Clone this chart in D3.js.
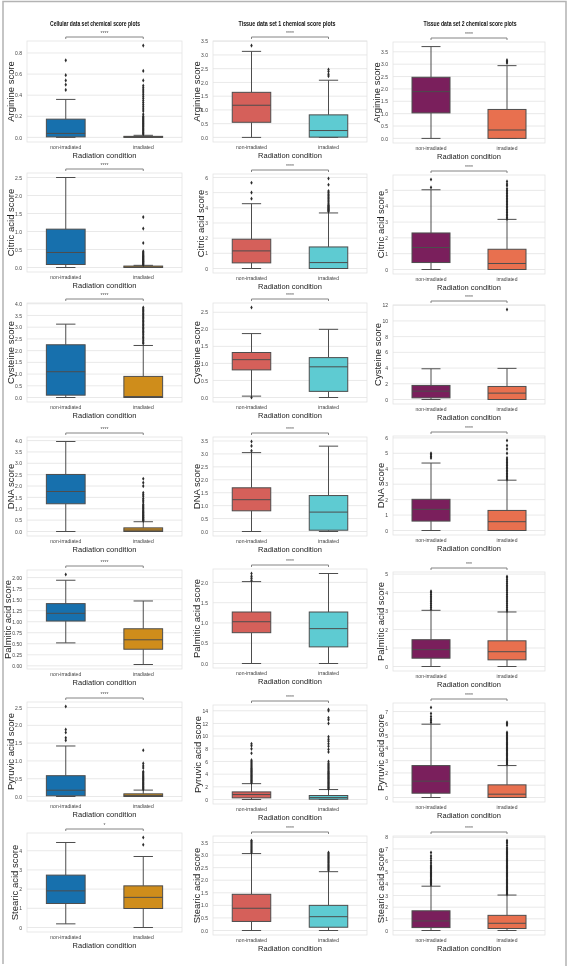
<!DOCTYPE html>
<html><head><meta charset="utf-8">
<script src="https://cdn.jsdelivr.net/npm/d3@7"></script>
<style>body{margin:0;background:#fff} svg{display:block;will-change:transform;opacity:0.999}</style>
</head><body><svg id="chart" width="569" height="972"></svg>
<script>
// ---------------- DATA ----------------
const groups = ["non-irradiated", "irradiated"];
const columnTitles = ["Cellular data set chemical score plots", "Tissue data set 1 chemical score plots", "Tissue data set 2 chemical score plots"];
const scoreLabels = ["Arginine score", "Citric acid score", "Cysteine score", "DNA score", "Palmitic acid score", "Pyruvic acid score", "Stearic acid score"];
const xAxisLabel = "Radiation condition";

// box stats per row: [[lo, q1, median, q3, hi] non-irradiated, [...] irradiated]
const cellularStats = [
  [[0, 0.005, 0.038, 0.173, 0.36], [0, 0, 0.003, 0.01, 0.02]],
  [[0, 0.083, 0.417, 1.065, 2.5], [0, 0, 0.01, 0.04, 0.06]],
  [[0, 0.10, 1.10, 2.25, 3.13], [0, 0, 0.04, 0.90, 2.22]],
  [[0, 1.22, 1.76, 2.51, 3.96], [0, 0, 0.06, 0.16, 0.43]],
  [[0.52, 1.015, 1.19, 1.41, 1.94], [0.03, 0.376, 0.59, 0.84, 1.47]],
  [[0, 0.02, 0.177, 0.585, 1.42], [0, 0, 0.03, 0.075, 0.18]],
  [[0.19, 1.25, 1.91, 2.73, 4.43], [0, 0.99, 1.57, 2.17, 3.70]]
];
const tissue1Stats = [
  [[0, 0.55, 1.17, 1.64, 3.13], [0, 0.01, 0.25, 0.82, 2.08]],
  [[0, 0.37, 1.16, 1.93, 4.27], [0, 0, 0.39, 1.42, 3.66]],
  [[0.04, 0.81, 1.11, 1.32, 1.875], [0, 0.18, 0.90, 1.17, 2.0]],
  [[0, 0.80, 1.23, 1.69, 3.05], [0, 0.05, 0.75, 1.39, 3.3]],
  [[0, 0.76, 1.03, 1.27, 2.02], [0, 0.41, 0.86, 1.27, 2.22]],
  [[0, 0.26, 0.78, 1.2, 2.5], [0, 0.05, 0.3, 0.63, 1.57]],
  [[0, 0.36, 0.885, 1.44, 3.06], [0, 0.13, 0.55, 1.0, 2.34]]
];
const tissue2Stats = [
  [[0, 1.03, 1.89, 2.47, 3.71], [0, 0, 0.34, 1.17, 2.94]],
  [[0, 0.44, 1.39, 2.31, 5.04], [0, 0, 0.38, 1.28, 3.17]],
  [[0, 0.21, 1.06, 1.79, 3.91], [0, 0, 0.81, 1.66, 3.96]],
  [[0, 0.61, 1.37, 2.02, 4.37], [0, 0, 0.57, 1.3, 3.26]],
  [[0, 0.45, 0.91, 1.45, 3.04], [0, 0.36, 0.8, 1.39, 2.95]],
  [[0, 0.35, 1.33, 2.6, 5.97], [0, 0, 0.27, 1.03, 2.6]],
  [[0, 0.25, 0.82, 1.69, 3.8], [0, 0.17, 0.62, 1.30, 3.04]]
];

// outliers per row: [non-irradiated, irradiated]
const cellularOutliers = [
  [[0.45, 0.50, 0.54, 0.59, 0.73],
   [0.03, 0.04, 0.05, 0.06, 0.07, 0.08, 0.09, 0.1, 0.11, 0.12, 0.13, 0.14, 0.15, 0.16, 0.17, 0.18, 0.19, 0.2, 0.22, 0.25, 0.27, 0.29, 0.31, 0.33, 0.35, 0.37, 0.39, 0.41, 0.43, 0.45, 0.47, 0.49, 0.54, 0.63, 0.87]],
  [[],
   [0.07, 0.09, 0.11, 0.13, 0.15, 0.17, 0.19, 0.21, 0.23, 0.25, 0.27, 0.29, 0.31, 0.33, 0.36, 0.39, 0.42, 0.45, 0.68, 1.08, 1.4]],
  [[],
   [2.3, 2.36, 2.42, 2.5, 2.56, 2.62, 2.7, 2.76, 2.82, 2.88, 2.94, 3.0, 3.06, 3.12, 3.18, 3.24, 3.3, 3.36, 3.42, 3.48, 3.54, 3.6, 3.66, 3.72, 3.78, 3.84]],
  [[],
   [0.47, 0.5, 0.53, 0.56, 0.6, 0.63, 0.67, 0.7, 0.74, 0.78, 0.82, 0.86, 0.9, 0.95, 1.0, 1.05, 1.1, 1.15, 1.2, 1.3, 1.38, 1.45, 1.55, 1.62, 1.7, 2.0, 2.15, 2.32]],
  [[2.07], []],
  [[1.58, 1.65, 1.8, 1.88, 2.53],
   [0.2, 0.23, 0.26, 0.29, 0.32, 0.35, 0.38, 0.41, 0.44, 0.47, 0.5, 0.53, 0.56, 0.6, 0.63, 0.67, 0.7, 0.8, 0.86, 0.93, 1.3]],
  [[], [4.31, 4.69]]
];
const tissue1Outliers = [
  [[3.34], [2.23, 2.3, 2.4, 2.47]],
  [[4.6, 5.0, 5.65],
   [3.75, 3.8, 3.85, 3.9, 3.95, 4.0, 4.05, 4.1, 4.15, 4.2, 4.3, 4.4, 4.5, 4.6, 4.7, 4.8, 4.9, 5.0, 5.1, 5.52, 5.93]],
  [[0.0, 2.64], []],
  [[3.12, 3.31, 3.48], []],
  [[2.05, 2.1, 2.15, 2.22], []],
  [[2.6, 2.75, 2.9, 3.05, 3.2, 3.35, 3.5, 3.65, 3.8, 3.95, 4.1, 4.25, 4.4, 4.55, 4.7, 4.85, 5.0, 5.2, 5.4, 5.6, 5.8, 6.0, 6.2, 7.3, 8.0, 8.5, 8.8],
   [1.65, 1.8, 1.95, 2.1, 2.25, 2.4, 2.55, 2.7, 2.85, 3.0, 3.15, 3.3, 3.45, 3.6, 3.75, 3.9, 4.05, 4.2, 4.35, 4.5, 4.7, 4.9, 5.1, 5.3, 5.5, 5.7, 6.0, 7.5, 7.9, 8.4, 8.8, 9.2, 9.5, 9.9, 12.0, 12.6, 12.9, 14.0, 14.2]],
  [[3.1, 3.15, 3.2, 3.25, 3.3, 3.35, 3.4, 3.45, 3.5, 3.55, 3.58],
   [2.4, 2.45, 2.5, 2.55, 2.6, 2.65, 2.7, 2.75, 2.8, 2.85, 2.9, 2.95, 3.0, 3.05, 3.1]]
];
const tissue2Outliers = [
  [[], [3.05, 3.1, 3.16]],
  [[5.19, 5.69],
   [3.2, 3.3, 3.4, 3.5, 3.6, 3.7, 3.8, 3.9, 4.0, 4.1, 4.2, 4.3, 4.4, 4.5, 4.6, 4.7, 4.8, 4.9, 5.0, 5.1, 5.3, 5.4, 5.57]],
  [[], [11.45]],
  [[4.7, 4.8, 4.9, 5.0],
   [3.3, 3.4, 3.5, 3.6, 3.7, 3.8, 3.9, 4.0, 4.1, 4.2, 4.3, 4.4, 4.5, 4.6, 4.7, 5.0, 5.28, 5.5, 5.83]],
  [[3.1, 3.2, 3.3, 3.4, 3.5, 3.6, 3.7, 3.8, 3.9, 4.0, 4.07],
   [3.0, 3.1, 3.2, 3.3, 3.4, 3.5, 3.6, 3.7, 3.8, 3.9, 4.0, 4.1, 4.2, 4.3, 4.4, 4.5, 4.6, 4.7, 4.8, 4.87]],
  [[6.1, 6.25, 6.4, 6.6, 6.84, 7.33],
   [2.7, 2.8, 2.9, 3.0, 3.1, 3.2, 3.3, 3.4, 3.5, 3.6, 3.7, 3.8, 3.9, 4.0, 4.1, 4.2, 4.3, 4.4, 4.5, 4.6, 4.7, 4.8, 4.9, 5.0, 5.1, 5.2, 5.3, 5.9, 6.0, 6.13]],
  [[3.9, 4.0, 4.1, 4.2, 4.3, 4.4, 4.5, 4.6, 4.7, 4.8, 4.9, 5.0, 5.1, 5.2, 5.3, 5.4, 5.5, 5.6, 5.8, 6.0, 6.2, 6.4, 6.68],
   [3.1, 3.2, 3.3, 3.4, 3.5, 3.6, 3.7, 3.8, 3.9, 4.0, 4.1, 4.2, 4.3, 4.4, 4.5, 4.6, 4.7, 4.8, 4.9, 5.0, 5.1, 5.2, 5.3, 5.4, 5.5, 5.6, 5.7, 5.8, 5.9, 6.0, 6.1, 6.2, 6.3, 6.4, 6.5, 6.6, 6.7, 6.8, 6.9, 7.0, 7.1, 7.3, 7.5, 7.6, 7.72]]
];

// y tick labels per row
const cellularTicks = [
  ["0.0", "0.2", "0.4", "0.6", "0.8"],
  ["0.0", "0.5", "1.0", "1.5", "2.0", "2.5"],
  ["0.0", "0.5", "1.0", "1.5", "2.0", "2.5", "3.0", "3.5", "4.0"],
  ["0.0", "0.5", "1.0", "1.5", "2.0", "2.5", "3.0", "3.5", "4.0"],
  ["0.00", "0.25", "0.50", "0.75", "1.00", "1.25", "1.50", "1.75", "2.00"],
  ["0.0", "0.5", "1.0", "1.5", "2.0", "2.5"],
  ["0", "1", "2", "3", "4"]
];
const tissue1Ticks = [
  ["0.0", "0.5", "1.0", "1.5", "2.0", "2.5", "3.0", "3.5"],
  ["0", "1", "2", "3", "4", "5", "6"],
  ["0.0", "0.5", "1.0", "1.5", "2.0", "2.5"],
  ["0.0", "0.5", "1.0", "1.5", "2.0", "2.5", "3.0", "3.5"],
  ["0.0", "0.5", "1.0", "1.5", "2.0"],
  ["0", "2", "4", "6", "8", "10", "12", "14"],
  ["0.0", "0.5", "1.0", "1.5", "2.0", "2.5", "3.0", "3.5"]
];
const tissue2Ticks = [
  ["0.0", "0.5", "1.0", "1.5", "2.0", "2.5", "3.0", "3.5"],
  ["0", "1", "2", "3", "4", "5"],
  ["0", "2", "4", "6", "8", "10", "12"],
  ["0", "1", "2", "3", "4", "5", "6"],
  ["0", "1", "2", "3", "4", "5"],
  ["0", "1", "2", "3", "4", "5", "6", "7"],
  ["0", "1", "2", "3", "4", "5", "6", "7", "8"]
];

const cellularSig = ["****", "****", "****", "****", "****", "****", "*"];
const tissue1Sig = ["****", "****", "****", "****", "****", "****", "****"];
const tissue2Sig = ["****", "****", "****", "****", "***", "****", "****"];

// ---------------- LAYOUT / STYLE ----------------
const columns = [
  {stats: cellularStats, outliers: cellularOutliers, ticks: cellularTicks, sig: cellularSig, colors: ["#1770ad", "#cf8d1b"]},
  {stats: tissue1Stats, outliers: tissue1Outliers, ticks: tissue1Ticks, sig: tissue1Sig, colors: ["#d5605a", "#5ecbd2"]},
  {stats: tissue2Stats, outliers: tissue2Outliers, ticks: tissue2Ticks, sig: tissue2Sig, colors: ["#7a1f5c", "#e8704f"]}
];
const colX = [[27, 182], [213, 367], [393, 545]];
const titleX = [95, 287, 470];
const titleLen = [90, 97, 93];
const rowTops = [
  [41, 173, 303, 437, 570, 702, 833],
  [41, 174, 303, 437, 569, 705, 836],
  [42, 175, 305, 436, 572, 703, 836]
];
const plotH = 99;
const font = "'Liberation Sans', Arial, sans-serif";
const lineCol = "#4d4d4d";

const svg = d3.select("#chart");
svg.append("rect").attr("width", 569).attr("height", 972).attr("fill", "#fff");

// outer frame
svg.append("path").attr("d", "M3,964 V1.5 H566 V966")
  .attr("fill", "none").attr("stroke", "#b3b3b3").attr("stroke-width", 1.5);

columns.forEach((col, ci) => {
  svg.append("text").attr("x", titleX[ci]).attr("y", 26)
    .attr("text-anchor", "middle").attr("font-family", font).attr("font-weight", "bold")
    .attr("font-size", 6.5).attr("textLength", titleLen[ci]).attr("lengthAdjust", "spacingAndGlyphs")
    .attr("fill", "#111").text(columnTitles[ci]);

  scoreLabels.forEach((label, ri) => {
    const top = rowTops[ci][ri];
    const bottom = top + (ri === 0 ? plotH + 2 : plotH);
    const [x0, x1] = colX[ci];
    const stats = col.stats[ri];
    const outs = col.outliers[ri];
    const allVals = stats.flat().concat(outs.flat());
    const mn = d3.min(allVals), mx = d3.max(allVals);
    const pad = (mx - mn) * 0.05;
    const y = d3.scaleLinear().domain([mn - pad, mx + pad]).range([bottom, top]);
    const x = d3.scaleBand().domain(groups).range([x0, x1]).padding(0);
    const bw = x.bandwidth();
    const boxW = bw * 0.5;
    const g = svg.append("g");

    // plot frame
    g.append("rect").attr("x", x0).attr("y", top).attr("width", x1 - x0).attr("height", bottom - top)
      .attr("fill", "#fff").attr("stroke", "#e3e3e3").attr("stroke-width", 0.8);

    // y axis with gridlines
    const tickVals = col.ticks[ri].map(Number);
    const yAxis = d3.axisLeft(y).tickValues(tickVals).tickSize(0).tickPadding(5)
      .tickFormat((d, i) => col.ticks[ri][i]);
    const ag = g.append("g").attr("transform", `translate(${x0},0)`).call(yAxis);
    ag.select(".domain").remove();
    ag.selectAll("text").attr("font-family", font).attr("font-size", 5).attr("fill", "#444");
    g.append("g").selectAll("line").data(tickVals).join("line")
      .attr("x1", x0).attr("x2", x1).attr("y1", d => y(d)).attr("y2", d => y(d))
      .attr("stroke", "#e3e3e3").attr("stroke-width", 0.8);
    let tw = 0;
    ag.selectAll("text").each(function () { tw = Math.max(tw, this.getComputedTextLength()); });

    // x axis
    const xAxis = d3.axisBottom(x).tickSize(0).tickPadding(3.5);
    const xg = g.append("g").attr("transform", `translate(0,${bottom})`).call(xAxis);
    xg.select(".domain").remove();
    xg.selectAll("text").attr("font-family", font).attr("font-size", 5).attr("fill", "#444");

    // axis labels
    g.append("text").attr("transform", `translate(${x0 - 5 - tw - 4.5},${(top + bottom) / 2}) rotate(-90)`)
      .attr("text-anchor", "middle").attr("dominant-baseline", "central")
      .attr("font-family", font).attr("font-size", 9.5).attr("fill", "#222").text(label);
    g.append("text").attr("x", (x0 + x1) / 2).attr("y", bottom + 16)
      .attr("text-anchor", "middle").attr("font-family", font).attr("font-size", 7.5)
      .attr("fill", "#222").text(xAxisLabel);

    // boxes
    groups.forEach((grp, gi) => {
      const [lo, q1, med, q3, hi] = stats[gi];
      const cx = x(grp) + bw / 2;
      const bg = g.append("g");
      bg.append("line").attr("x1", cx).attr("x2", cx).attr("y1", y(q3)).attr("y2", y(hi))
        .attr("stroke", lineCol).attr("stroke-width", 1);
      bg.append("line").attr("x1", cx).attr("x2", cx).attr("y1", y(q1)).attr("y2", y(lo))
        .attr("stroke", lineCol).attr("stroke-width", 1);
      [lo, hi].forEach(v => bg.append("line").attr("x1", cx - boxW / 4).attr("x2", cx + boxW / 4)
        .attr("y1", y(v)).attr("y2", y(v)).attr("stroke", lineCol).attr("stroke-width", 1));
      bg.append("rect").attr("x", cx - boxW / 2).attr("width", boxW)
        .attr("y", y(q3)).attr("height", Math.max(0.5, y(q1) - y(q3)))
        .attr("fill", col.colors[gi]).attr("stroke", lineCol).attr("stroke-width", 1);
      bg.append("line").attr("x1", cx - boxW / 2).attr("x2", cx + boxW / 2)
        .attr("y1", y(med)).attr("y2", y(med)).attr("stroke", lineCol).attr("stroke-width", 1);
      bg.selectAll("path.out").data(outs[gi]).join("path").attr("class", "out")
        .attr("d", d3.symbol(d3.symbolDiamond, 5))
        .attr("transform", d => `translate(${cx},${y(d)})`)
        .attr("fill", "#2b2b2b");
    });

    // significance bracket
    const c0 = x(groups[0]) + bw / 2, c1 = x(groups[1]) + bw / 2;
    const by = top - 4;
    g.append("path").attr("d", `M${c0},${by + 2} V${by} H${c1} V${by + 2}`)
      .attr("fill", "none").attr("stroke", "#777").attr("stroke-width", 0.9);
    g.append("text").attr("x", (c0 + c1) / 2).attr("y", by - 2)
      .attr("text-anchor", "middle").attr("font-family", font).attr("font-size", 5)
      .attr("fill", "#555").text(col.sig[ri]);
  });
});
</script>
</body></html>
